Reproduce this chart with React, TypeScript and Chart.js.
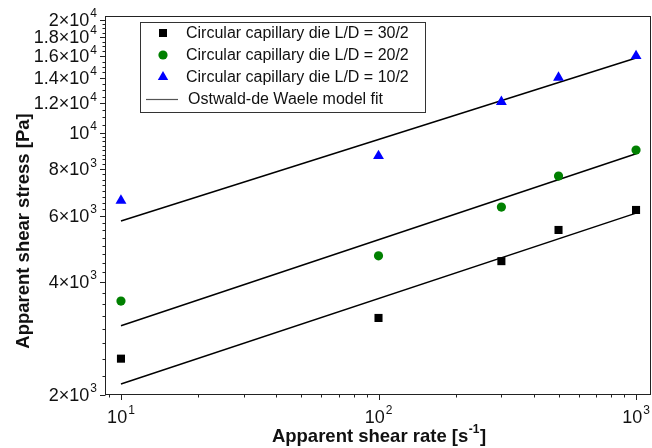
import React, { useEffect, useRef } from 'react';
import { Chart, registerables } from 'chart.js';

Chart.register(...registerables);

// ---- Data ----
const shearRates = [10, 100, 300, 500, 1000];
const stressLD30 = [2500, 3210, 4550, 5510, 6230];
const stressLD20 = [3560, 4700, 6340, 7670, 9000];
const stressLD10 = [6600, 8680, 12100, 14040, 16040];

const fitRates = [10, 1000];
const fitLD30 = [2140, 6110];
const fitLD20 = [3060, 8800];
const fitLD10 = [5820, 15840];

const seriesLabels = [
  'Circular capillary die L/D = 30/2',
  'Circular capillary die L/D = 20/2',
  'Circular capillary die L/D = 10/2',
  'Ostwald-de Waele model fit',
];

const xTickValues = [10, 100, 1000];
const xTickLabels = ['10^1', '10^2', '10^3'];
const xMinorTicks = [9, 20, 30, 40, 50, 60, 70, 80, 90, 200, 300, 400, 500, 600, 700, 800, 900];

const yTickValues = [2000, 4000, 6000, 8000, 10000, 12000, 14000, 16000, 18000, 20000];
const yTickLabels = ['2×10^3', '4×10^3', '6×10^3', '8×10^3', '10^4', '1.2×10^4', '1.4×10^4', '1.6×10^4', '1.8×10^4', '2×10^4'];
const yMinorTicks = [
  2250, 2500, 2750, 3000, 3250, 3500, 3750,
  4250, 4500, 4750, 5000, 5250, 5500, 5750,
  6250, 6500, 6750, 7000, 7250, 7500, 7750,
  8250, 8500, 8750, 9000, 9250, 9500, 9750,
  10500, 11000, 11500, 12500, 13000, 13500, 14500, 15000, 15500,
  16500, 17000, 17500, 18500, 19000, 19500,
];

const xTitle = ['Apparent shear rate [s', '-1', ']'];
const yTitle = 'Apparent shear stress [Pa]';

const FONT = "'Liberation Sans', Arial, Helvetica, sans-serif";

function drawPow(ctx: CanvasRenderingContext2D, label: string, x: number, y: number, align: 'right' | 'center', baseSize: number, expSize: number, raise: number) {
  const [base, exp] = label.split('^');
  ctx.font = `${baseSize}px ${FONT}`;
  const wb = ctx.measureText(base).width;
  ctx.font = `${expSize}px ${FONT}`;
  const we = ctx.measureText(exp || '').width;
  const total = wb + we + 1;
  const start = align === 'right' ? x - total : x - total / 2;
  ctx.textAlign = 'left';
  ctx.textBaseline = 'middle';
  ctx.fillStyle = '#111';
  ctx.font = `${baseSize}px ${FONT}`;
  ctx.fillText(base, start, y);
  if (exp) {
    ctx.font = `${expSize}px ${FONT}`;
    ctx.fillText(exp, start + wb + 1, y - raise);
  }
}

const decorPlugin = {
  id: 'decor',
  afterDatasetsDraw(chart: any) {
    const ctx: CanvasRenderingContext2D = chart.ctx;
    const { left, right, top, bottom } = chart.chartArea;
    const xs = chart.scales.x;
    const ys = chart.scales.y;
    ctx.save();
    // frame
    ctx.strokeStyle = '#222';
    ctx.lineWidth = 1;
    ctx.strokeRect(left + 0.5, top + 0.5, right - left - 1, bottom - top - 1);

    // ticks
    ctx.beginPath();
    for (const v of yTickValues) {
      const py = Math.round(ys.getPixelForValue(v)) + 0.5;
      ctx.moveTo(left + 0.5, py);
      ctx.lineTo(left - 5, py);
    }
    for (const v of yMinorTicks) {
      const py = Math.round(ys.getPixelForValue(v)) + 0.5;
      ctx.moveTo(left + 0.5, py);
      ctx.lineTo(left - 2.5, py);
    }
    for (const v of xTickValues) {
      const px = Math.round(xs.getPixelForValue(v)) + 0.5;
      ctx.moveTo(px, bottom - 0.5);
      ctx.lineTo(px, bottom + 5);
    }
    for (const v of xMinorTicks) {
      const px = Math.round(xs.getPixelForValue(v)) + 0.5;
      ctx.moveTo(px, bottom - 0.5);
      ctx.lineTo(px, bottom + 2.5);
    }
    ctx.stroke();

    // tick labels
    yTickValues.forEach((v, i) => {
      drawPow(ctx, yTickLabels[i], left - 8, ys.getPixelForValue(v) + 1, 'right', 18, 12, 7);
    });
    xTickValues.forEach((v, i) => {
      drawPow(ctx, xTickLabels[i], xs.getPixelForValue(v), bottom + 23, 'center', 18, 12, 7);
    });

    // x title
    ctx.fillStyle = '#111';
    ctx.textBaseline = 'middle';
    ctx.textAlign = 'left';
    const tb = `bold 18.5px ${FONT}`;
    const ts = `bold 12px ${FONT}`;
    ctx.font = tb;
    const w1 = ctx.measureText(xTitle[0]).width;
    const w3 = ctx.measureText(xTitle[2]).width;
    ctx.font = ts;
    const w2 = ctx.measureText(xTitle[1]).width;
    const tot = w1 + w2 + w3 + 1;
    const cx = (left + right) / 2 + 1;
    const sx = cx - tot / 2;
    const ty = 437;
    ctx.font = tb;
    ctx.fillText(xTitle[0], sx, ty);
    ctx.font = ts;
    ctx.fillText(xTitle[1], sx + w1 + 0.5, ty - 7);
    ctx.font = tb;
    ctx.fillText(xTitle[2], sx + w1 + w2 + 1, ty);

    // y title
    ctx.save();
    ctx.translate(24, 231);
    ctx.rotate(-Math.PI / 2);
    ctx.textAlign = 'center';
    ctx.textBaseline = 'middle';
    ctx.font = tb;
    ctx.fillText(yTitle, 0, 0);
    ctx.restore();

    // legend
    const lx = 140, ly = 22, lw = 285, lh = 90;
    ctx.fillStyle = '#fff';
    ctx.fillRect(lx, ly, lw, lh);
    ctx.strokeStyle = '#333';
    ctx.lineWidth = 1;
    ctx.strokeRect(lx + 0.5, ly + 0.5, lw, lh);
    const rows = [33, 55, 77, 99];
    const mx = 163;
    ctx.fillStyle = '#000';
    ctx.fillRect(mx - 4, rows[0] - 4, 8, 8);
    ctx.fillStyle = '#008000';
    ctx.beginPath();
    ctx.arc(mx, rows[1], 4.6, 0, Math.PI * 2);
    ctx.fill();
    ctx.fillStyle = '#0000ff';
    ctx.beginPath();
    ctx.moveTo(mx, rows[2] - 6);
    ctx.lineTo(mx + 5.2, rows[2] + 3);
    ctx.lineTo(mx - 5.2, rows[2] + 3);
    ctx.closePath();
    ctx.fill();
    ctx.strokeStyle = '#555';
    ctx.lineWidth = 1.2;
    ctx.beginPath();
    ctx.moveTo(146, rows[3] + 0.5);
    ctx.lineTo(178, rows[3] + 0.5);
    ctx.stroke();
    ctx.fillStyle = '#111';
    ctx.font = `16px ${FONT}`;
    ctx.textAlign = 'left';
    ctx.textBaseline = 'middle';
    seriesLabels.forEach((t, i) => {
      ctx.fillText(t, i === 3 ? 188 : 186, rows[i] + 1);
    });
    ctx.restore();
  },
};

function pts(xv: number[], yv: number[]) {
  return xv.map((x, i) => ({ x, y: yv[i] }));
}

export default function App() {
  const ref = useRef<HTMLCanvasElement>(null);
  useEffect(() => {
    document.body.style.margin = '0';
    const chart = new Chart(ref.current as HTMLCanvasElement, {
      type: 'scatter',
      data: {
        datasets: [
          { label: seriesLabels[0], data: pts(shearRates, stressLD30), pointStyle: 'rect', pointRadius: 5.7, pointBackgroundColor: '#000', pointBorderColor: '#000', pointBorderWidth: 0, showLine: false } as any,
          { label: seriesLabels[1], data: pts(shearRates, stressLD20), pointStyle: 'circle', pointRadius: 4.6, pointBackgroundColor: '#008000', pointBorderColor: '#008000', pointBorderWidth: 0, showLine: false },
          { label: seriesLabels[2], data: pts(shearRates, stressLD10), pointStyle: 'triangle', pointRadius: 6.3, pointBackgroundColor: '#0000ff', pointBorderColor: '#0000ff', pointBorderWidth: 0, showLine: false },
          { label: seriesLabels[3], data: pts(fitRates, fitLD30), showLine: true, pointRadius: 0, borderColor: '#000', borderWidth: 1.5, fill: false },
          { label: seriesLabels[3], data: pts(fitRates, fitLD20), showLine: true, pointRadius: 0, borderColor: '#000', borderWidth: 1.5, fill: false },
          { label: seriesLabels[3], data: pts(fitRates, fitLD10), showLine: true, pointRadius: 0, borderColor: '#000', borderWidth: 1.5, fill: false },
        ],
      },
      options: {
        responsive: false,
        devicePixelRatio: 1,
        animation: false,
        layout: { autoPadding: false, padding: { left: 0, top: 16, right: 1, bottom: 0 } },
        plugins: { legend: { display: false }, tooltip: { enabled: false } },
        scales: {
          x: {
            type: 'logarithmic',
            min: 8.67,
            max: 1143,
            ticks: { display: false },
            grid: { display: false },
            border: { display: false },
            afterFit: (s: any) => { s.height = 53; },
          },
          y: {
            type: 'logarithmic',
            min: 2000,
            max: 20500,
            ticks: { display: false },
            grid: { display: false },
            border: { display: false },
            afterFit: (s: any) => { s.width = 105; },
          },
        },
      } as any,
      plugins: [decorPlugin],
    });
    return () => chart.destroy();
  }, []);
  return (
    <div style={{ position: 'absolute', left: 0, top: 0, width: 652, height: 448, background: '#fff' }}>
      <canvas ref={ref} width={652} height={448} style={{ display: 'block', width: 652, height: 448 }} />
    </div>
  );
}
